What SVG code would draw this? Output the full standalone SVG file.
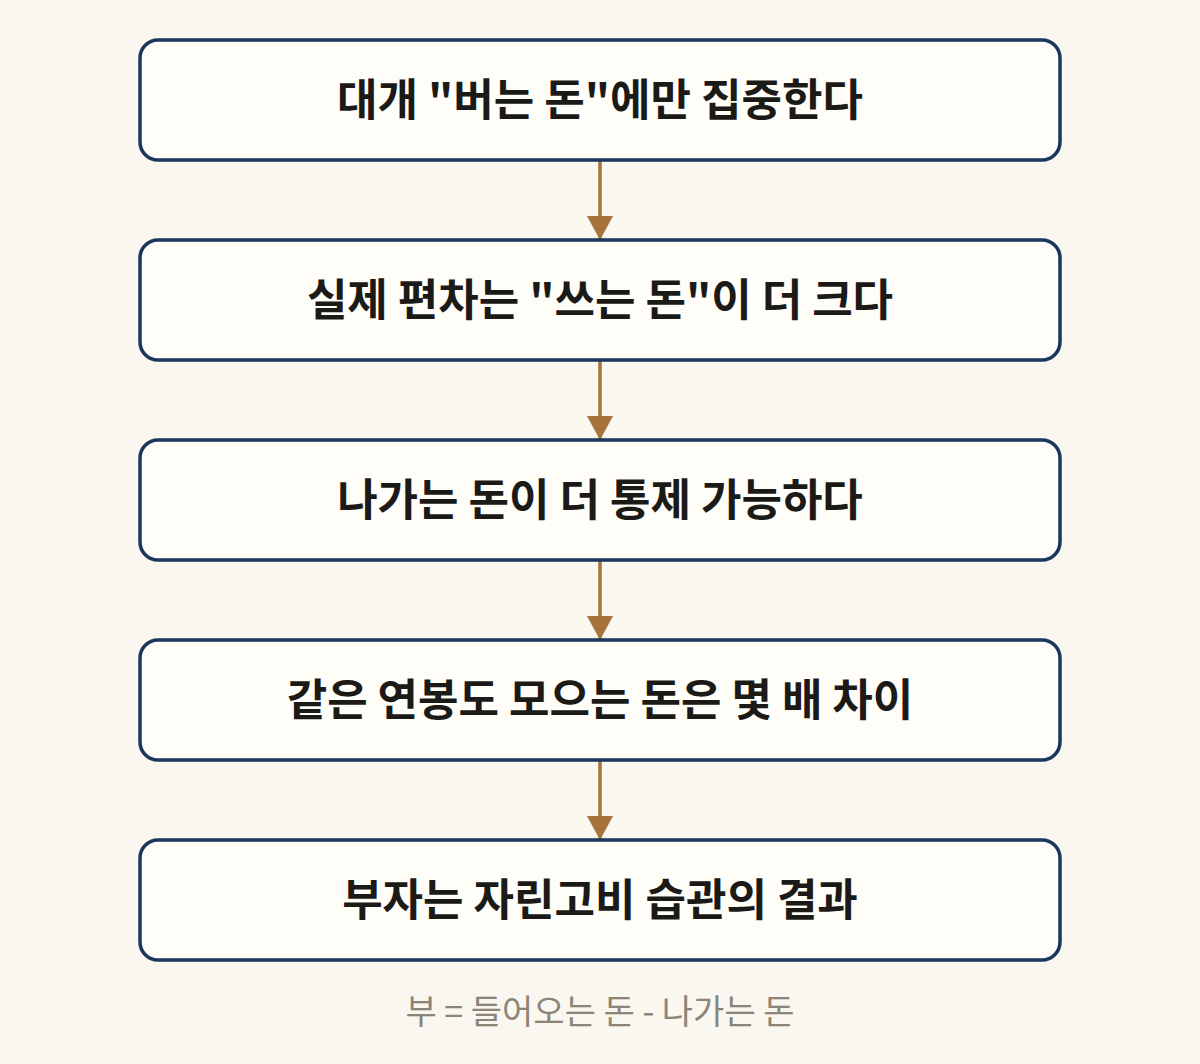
<svg xmlns="http://www.w3.org/2000/svg" width="1200" height="1064" viewBox="0 0 1200 1064">
<style>
.box{fill:#fffdf8;stroke:#1b365d;stroke-width:3.5}
.lbl{font-family:"Noto Sans CJK KR","Noto Sans",sans-serif;font-weight:700;font-size:44px;fill:#1c1a17;text-anchor:middle}
.edge{stroke:#a8733a;stroke-width:3.5;fill:none}
.foot{font-family:"Noto Sans CJK KR","Noto Sans",sans-serif;font-size:34px;fill:#8c8476;text-anchor:middle}
</style>
<defs>
<marker id="ah" viewBox="0 0 24 26" refX="24" refY="13" markerWidth="24" markerHeight="26" markerUnits="userSpaceOnUse" orient="auto">
<path d="M0,0 L24,13 L0,26 Z" fill="#a8733a"/>
</marker>
</defs>
<rect width="1200" height="1064" fill="#f9f7f0"/>
<g id="connectors">
<line class="edge" x1="600" y1="160" x2="600" y2="240" marker-end="url(#ah)"/>
<line class="edge" x1="600" y1="360" x2="600" y2="440" marker-end="url(#ah)"/>
<line class="edge" x1="600" y1="560" x2="600" y2="640" marker-end="url(#ah)"/>
<line class="edge" x1="600" y1="760" x2="600" y2="840" marker-end="url(#ah)"/>
</g>
<g id="n1"><rect class="box" x="140" y="40" width="920" height="120" rx="18"/><text class="lbl" x="600" y="116">대개 "버는 돈"에만 집중한다</text></g>
<g id="n2"><rect class="box" x="140" y="240" width="920" height="120" rx="18"/><text class="lbl" x="600" y="316">실제 편차는 "쓰는 돈"이 더 크다</text></g>
<g id="n3"><rect class="box" x="140" y="440" width="920" height="120" rx="18"/><text class="lbl" x="600" y="516">나가는 돈이 더 통제 가능하다</text></g>
<g id="n4"><rect class="box" x="140" y="640" width="920" height="120" rx="18"/><text class="lbl" x="600" y="716">같은 연봉도 모으는 돈은 몇 배 차이</text></g>
<g id="n5"><rect class="box" x="140" y="840" width="920" height="120" rx="18"/><text class="lbl" x="600" y="916">부자는 자린고비 습관의 결과</text></g>
<text class="foot" x="600" y="1024">부 = 들어오는 돈 - 나가는 돈</text>
</svg>
